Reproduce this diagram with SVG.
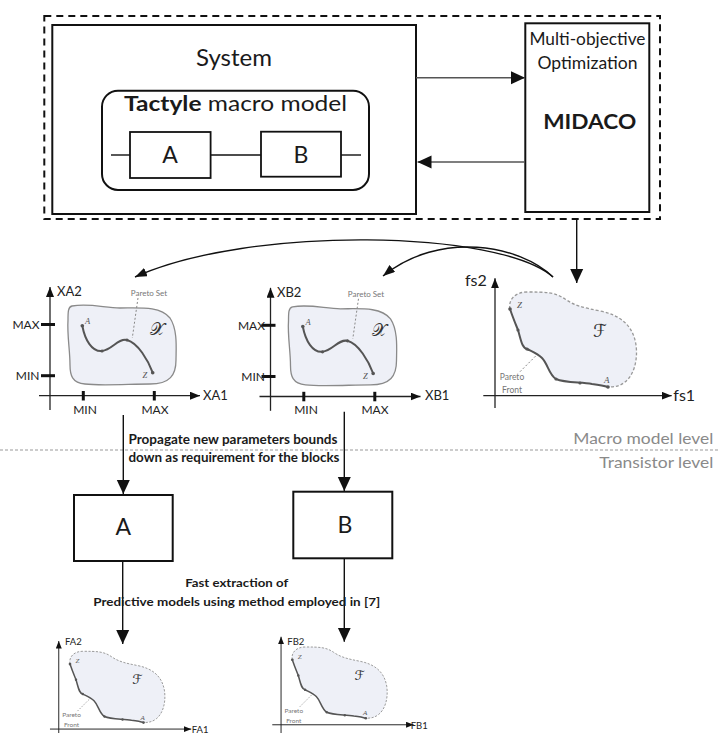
<svg xmlns="http://www.w3.org/2000/svg" xmlns:xlink="http://www.w3.org/1999/xlink" width="720" height="733" viewBox="0 0 720 733">
<style>
.t{font-family:Lato,"Open Sans","Liberation Sans",sans-serif;fill:#1a1a1a}
.b{font-weight:bold}
.lvl{font-family:Lato,"Open Sans","Liberation Sans",sans-serif;fill:#8a8a8a;font-size:16px}
.sm{font-family:Lato,"Open Sans","Liberation Sans",sans-serif;fill:#777}
.ax{font-family:Lato,"Open Sans","Liberation Sans",sans-serif;fill:#222}
.it{font-family:"Liberation Serif","DejaVu Serif",serif;font-style:italic;fill:#555}
.sym{font-family:"DejaVu Serif","DejaVu Sans","Liberation Serif",serif;fill:#333}
.box{fill:#fff;stroke:#111;stroke-width:2}
.dash{fill:none;stroke:#111;stroke-width:2;stroke-dasharray:7 5}
.con{fill:none;stroke:#111;stroke-width:1.4}
.gcon{fill:none;stroke:#555;stroke-width:1.5}
.axis{fill:none;stroke:#222;stroke-width:1.3}
.tick{fill:none;stroke:#111;stroke-width:3}
.blob{fill:#eef0f7;stroke:#8a8a8a;stroke-width:1.3}
.front{fill:none;stroke:#555;stroke-width:2}
.ptr{fill:none;stroke:#888;stroke-width:1;stroke-dasharray:2 2}
.freg{fill:#eef0f7;stroke:none}
.fblob{fill:none;stroke:#999;stroke-width:1.3;stroke-dasharray:3 2}
.dot{fill:#555}
</style>
<defs>
<marker id="ah" markerUnits="userSpaceOnUse" markerWidth="14" markerHeight="14" viewBox="0 0 14 14" refX="14" refY="7" orient="auto"><path d="M0,0.5 L14,7 L0,13.5 z" fill="#111"/></marker>
<marker id="ahs" markerUnits="userSpaceOnUse" markerWidth="10" markerHeight="8" viewBox="0 0 10 8" refX="10" refY="4" orient="auto"><path d="M0,0 L10,4 L0,8 z" fill="#111"/></marker>
<marker id="ahc" markerUnits="userSpaceOnUse" markerWidth="12" markerHeight="9" viewBox="0 0 12 9" refX="12" refY="4.5" orient="auto"><path d="M0,0 L12,4.5 L0,9 z" fill="#111"/></marker>
<g id="xshape">
<line class="axis" x1="50" y1="410" x2="50" y2="287" marker-end="url(#ahs)"/>
<line class="axis" x1="39" y1="395.7" x2="200" y2="395.7" marker-end="url(#ahs)"/>
<line class="tick" x1="41" y1="324.5" x2="55" y2="324.5"/>
<line class="tick" x1="41" y1="375.7" x2="55" y2="375.7"/>
<line class="tick" x1="83.3" y1="391" x2="83.3" y2="400.5"/>
<line class="tick" x1="154.3" y1="391" x2="154.3" y2="400.5"/>
<path class="blob" d="M72,306 C90,303 105,308 120,308 C140,308 160,306 170,318 C178,330 176,350 176,360 C176,375 170,384 150,384 C130,384 100,386 85,384 C72,383 70,375 70,365 C70,350 67,335 68,320 C68,312 68,307 72,306 Z"/>
<path class="front" d="M82.3,325.7 C85,340 92,352 102,351 C112,350 118,338 127,340 C138,343 148,360 152.7,372.7"/>
<circle class="dot" cx="82.3" cy="325.7" r="1.8"/>
<circle class="dot" cx="102" cy="351" r="1.6"/>
<circle class="dot" cx="127" cy="340" r="1.6"/>
<circle class="dot" cx="152.7" cy="372.7" r="1.8"/>
<line class="ptr" x1="138" y1="298" x2="132.3" y2="338"/>
</g>
<g id="fshape">
<line class="axis" x1="495" y1="408" x2="495" y2="278.3" marker-end="url(#ahs)"/>
<line class="axis" x1="483.3" y1="395.7" x2="671.7" y2="395.7" marker-end="url(#ahs)"/>
<path class="freg" d="M510,309 C508,300 515,292 527,292 C545,292 555,292 565,299 C575,306 585,308 600,311 C620,315 633,325 636,345 C638,360 634,375 625,382 C620,386 615,387 608,387 C605,386 600,385 592,384 C580,382 565,383 556,379 C549,375 548,364 542,358 C538,354 533,352 527,349 C522,348 521,340 518,330 C516,325 513,318 510,309 Z"/>
<path class="fblob" d="M510,309 C508,300 515,292 527,292 C545,292 555,292 565,299 C575,306 585,308 600,311 C620,315 633,325 636,345 C638,360 634,375 625,382 C620,386 615,387 608,387"/>
<path class="front" d="M510,309 C513,318 516,325 518,330 C521,340 522,348 527,349 C533,352 538,354 542,358 C548,364 549,375 556,379 C565,383 580,382 592,384 C600,385 605,386 608,387"/>
<circle class="dot" cx="510" cy="309" r="1.8"/>
<circle class="dot" cx="518" cy="330" r="1.6"/>
<circle class="dot" cx="527" cy="349" r="1.6"/>
<circle class="dot" cx="556" cy="379" r="1.6"/>
<circle class="dot" cx="580" cy="383" r="1.6"/>
<circle class="dot" cx="608" cy="387" r="1.8"/>
<line class="ptr" x1="520" y1="371.7" x2="536.7" y2="355"/>
</g>
</defs>

<rect width="720" height="733" fill="#fff"/>

<g id="boundary">
<rect class="dash" x="44.3" y="16" width="615.7" height="203"/>
</g>

<g id="node-system">
<rect class="box" x="52.3" y="25" width="363.7" height="189"/>
<text class="t" x="234" y="66" font-size="23" text-anchor="middle" textLength="76" lengthAdjust="spacingAndGlyphs">System</text>
<rect x="102" y="90.7" width="267" height="99.3" rx="16" fill="#fff" stroke="#111" stroke-width="2"/>
<text class="t" x="235.5" y="111" font-size="21" text-anchor="middle" textLength="223" lengthAdjust="spacingAndGlyphs"><tspan class="b">Tactyle</tspan> macro model</text>
<line class="con" x1="111" y1="155" x2="130" y2="155"/>
<line class="con" x1="210.6" y1="155" x2="261" y2="155"/>
<line class="con" x1="341" y1="155" x2="361" y2="155"/>
<g id="node-system-A">
<rect x="130" y="132" width="80.6" height="46" fill="#fff" stroke="#111" stroke-width="1.8"/>
<text class="t" x="170" y="163" font-size="23" text-anchor="middle">A</text>
</g>
<g id="node-system-B">
<rect x="261" y="131.7" width="80" height="45" fill="#fff" stroke="#111" stroke-width="1.8"/>
<text class="t" x="301" y="163" font-size="23" text-anchor="middle">B</text>
</g>
</g>

<g id="node-midaco">
<rect class="box" x="525.3" y="23.3" width="124" height="188.7"/>
<text class="t" x="587.5" y="45" font-size="17" text-anchor="middle" textLength="116" lengthAdjust="spacingAndGlyphs" fill="#333">Multi-objective</text>
<text class="t" x="587.5" y="69.3" font-size="17" text-anchor="middle" textLength="100" lengthAdjust="spacingAndGlyphs" fill="#333">Optimization</text>
<text class="t b" x="589.7" y="129.3" font-size="21" text-anchor="middle" textLength="93" lengthAdjust="spacingAndGlyphs">MIDACO</text>
</g>

<g id="node-plot-xa">
<use href="#xshape" xlink:href="#xshape"/>
<text class="ax" x="57" y="295.5" font-size="13">XA2</text>
<text class="ax" x="203" y="400.3" font-size="13">XA1</text>
<text class="ax" x="39.5" y="328.7" font-size="12" text-anchor="end">MAX</text>
<text class="ax" x="39.5" y="380" font-size="12" text-anchor="end">MIN</text>
<text class="ax" x="85" y="414.3" font-size="12" text-anchor="middle">MIN</text>
<text class="ax" x="155" y="414.3" font-size="12" text-anchor="middle">MAX</text>
<text class="sm" x="149" y="295.5" font-size="8" text-anchor="middle">Pareto Set</text>
<text class="it" x="85" y="324" font-size="8.5">A</text>
<text class="it" x="142.5" y="378" font-size="8.5">Z</text>
<text class="sym" x="157" y="335" font-size="17" text-anchor="middle">𝒳</text>
</g>

<g id="node-plot-xb">
<use href="#xshape" xlink:href="#xshape" transform="translate(220.5,0.8)"/>
<text class="ax" x="277" y="297" font-size="13">XB2</text>
<text class="ax" x="425" y="400.3" font-size="13">XB1</text>
<text class="ax" x="265" y="330" font-size="12" text-anchor="end">MAX</text>
<text class="ax" x="265" y="381" font-size="12" text-anchor="end">MIN</text>
<text class="ax" x="306" y="414.3" font-size="12" text-anchor="middle">MIN</text>
<text class="ax" x="375" y="414.3" font-size="12" text-anchor="middle">MAX</text>
<text class="sm" x="366" y="296.5" font-size="8" text-anchor="middle">Pareto Set</text>
<text class="it" x="305.5" y="325" font-size="8.5">A</text>
<text class="it" x="363" y="378.5" font-size="8.5">Z</text>
<text class="sym" x="379" y="336" font-size="17" text-anchor="middle">𝒳</text>
</g>

<g id="node-plot-fs">
<use href="#fshape" xlink:href="#fshape"/>
<text class="ax" x="465" y="285.7" font-size="16">fs2</text>
<text class="ax" x="673.3" y="401" font-size="16">fs1</text>
<text class="sm" x="512" y="380" font-size="8.5" text-anchor="middle">Pareto</text>
<text class="sm" x="512" y="392.7" font-size="8.5" text-anchor="middle">Front</text>
<text class="it" x="517" y="308" font-size="9">Z</text>
<text class="it" x="604" y="383" font-size="9">A</text>
<text class="sym" x="600" y="337" font-size="18" text-anchor="middle">ℱ</text>
</g>

<g id="levels">
<line x1="0" y1="450" x2="720" y2="450" stroke="#999" stroke-width="1.2" stroke-dasharray="3 2"/>
<text class="lvl" x="713.3" y="444" text-anchor="end" textLength="140" lengthAdjust="spacingAndGlyphs">Macro model level</text>
<text class="lvl" x="713.3" y="468.3" text-anchor="end" textLength="114" lengthAdjust="spacingAndGlyphs">Transistor level</text>
</g>

<g id="node-block-A">
<rect class="box" x="74" y="495" width="98.7" height="66"/>
<text class="t" x="123.3" y="535" font-size="23" text-anchor="middle">A</text>
</g>
<g id="node-block-B">
<rect class="box" x="293.3" y="491.7" width="99" height="66.6"/>
<text class="t" x="345" y="532.7" font-size="23" text-anchor="middle">B</text>
</g>

<g id="node-plot-fa">
<use href="#fshape" xlink:href="#fshape" transform="translate(-312.5,432.3) scale(0.75)"/>
<text class="ax" x="65" y="645" font-size="9.5">FA2</text>
<text class="ax" x="191.7" y="732.5" font-size="9.5">FA1</text>
<text class="sm" x="71.5" y="717.3" font-size="6.5" text-anchor="middle">Pareto</text>
<text class="sm" x="71.5" y="726.8" font-size="6.5" text-anchor="middle">Front</text>
<text class="it" x="75.5" y="663" font-size="7">Z</text>
<text class="it" x="140.5" y="719.5" font-size="7">A</text>
<text class="sym" x="137.5" y="684.3" font-size="13.5" text-anchor="middle">ℱ</text>
</g>

<g id="node-plot-fb">
<use href="#fshape" xlink:href="#fshape" transform="translate(-90.2,428) scale(0.75)"/>
<text class="ax" x="287.3" y="645" font-size="9.5">FB2</text>
<text class="ax" x="410.7" y="729" font-size="9.5">FB1</text>
<text class="sm" x="293.8" y="713" font-size="6.5" text-anchor="middle">Pareto</text>
<text class="sm" x="293.8" y="722.5" font-size="6.5" text-anchor="middle">Front</text>
<text class="it" x="297.8" y="659" font-size="7">Z</text>
<text class="it" x="363" y="715.3" font-size="7">A</text>
<text class="sym" x="359.8" y="680" font-size="13.5" text-anchor="middle">ℱ</text>
</g>

<g id="connectors">
<line class="gcon" x1="416" y1="77.7" x2="525" y2="77.7" marker-end="url(#ah)"/>
<line class="gcon" x1="525" y1="162" x2="417.5" y2="162" marker-end="url(#ah)"/>
<line class="con" x1="576.7" y1="219" x2="576.7" y2="283" marker-end="url(#ah)"/>
<path class="con" d="M553,277 C500,230 250,225 135,277" stroke-width="1.8" marker-end="url(#ahc)"/>
<path class="con" d="M553,277 C520,245 440,230 383,276" stroke-width="1.8" marker-end="url(#ahc)"/>
<line class="con" x1="123.3" y1="415" x2="123.3" y2="494" marker-end="url(#ah)"/>
<line class="con" x1="344.3" y1="411.7" x2="344.3" y2="491" marker-end="url(#ah)"/>
<line class="con" x1="122.7" y1="561" x2="122.7" y2="644" marker-end="url(#ah)"/>
<line class="con" x1="344.3" y1="558.3" x2="344.3" y2="641.7" marker-end="url(#ah)"/>
</g>

<g id="labels">
<text class="t b" x="233" y="444.3" font-size="13" text-anchor="middle" textLength="209" lengthAdjust="spacingAndGlyphs" fill="#333">Propagate new parameters bounds</text>
<text class="t b" x="234" y="462.3" font-size="13" text-anchor="middle" textLength="211" lengthAdjust="spacingAndGlyphs" fill="#333">down as requirement for the blocks</text>
<text class="t b" x="236.7" y="586.7" font-size="12" text-anchor="middle" textLength="103" lengthAdjust="spacingAndGlyphs" fill="#333">Fast extraction of</text>
<text class="t b" x="236.7" y="605.7" font-size="12" text-anchor="middle" textLength="287" lengthAdjust="spacingAndGlyphs" fill="#333">Predictive models using method employed in [7]</text>
</g>
</svg>
